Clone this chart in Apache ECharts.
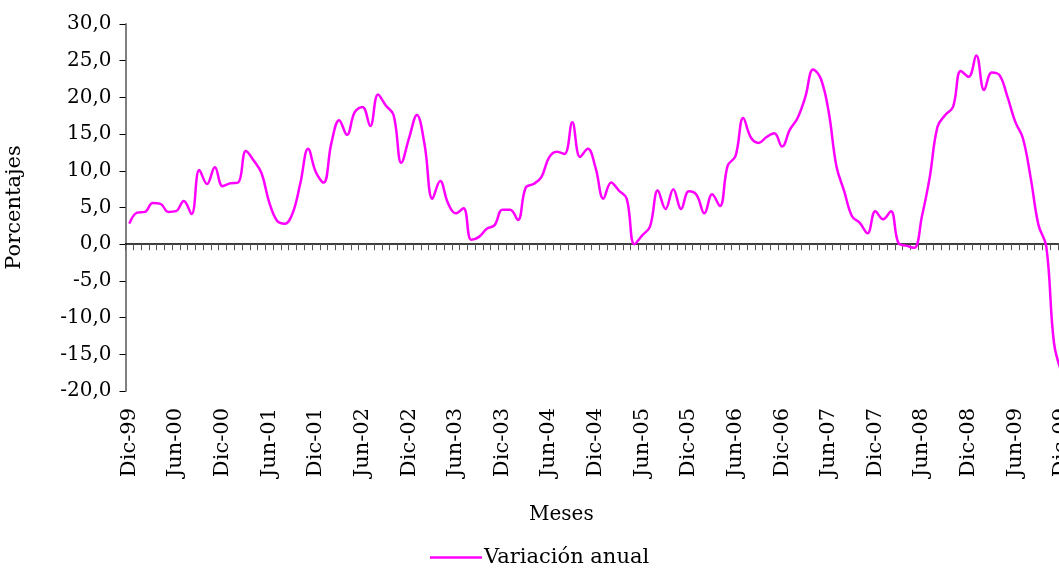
<!DOCTYPE html>
<html>
<head>
<meta charset="utf-8">
<script src="https://cdn.jsdelivr.net/npm/echarts@6/dist/echarts.min.js"></script>
<style>
  html, body { margin: 0; padding: 0; background: #fff; }
  #chart { width: 1059px; height: 568px; }
</style>
</head>
<body>
<div id="chart"></div>
<script>
// month abbreviations used for the category labels
const meses = ["Ene", "Feb", "Mar", "Abr", "May", "Jun", "Jul", "Ago", "Sep", "Oct", "Nov", "Dic"];
const anios = ["00", "01", "02", "03", "04", "05", "06", "07", "08", "09"];

// annual variation (%), Dic-99 then Ene..Dic of each year
const dic99 = [2.8];
const v2000 = [4.3, 4.4, 5.6, 5.5, 4.4, 4.5, 5.9, 4.1, 10.1, 8.2, 10.5, 7.9];
const v2001 = [8.3, 8.4, 12.7, 11.4, 9.7, 5.7, 3.2, 2.8, 4.2, 8.3, 13.0, 9.8];
const v2002 = [8.4, 13.8, 16.9, 14.9, 18.0, 18.7, 16.1, 20.4, 18.9, 17.6, 11.1, 14.5];
const v2003 = [17.6, 13.5, 6.2, 8.6, 5.6, 4.2, 4.9, 0.6, 1.0, 2.1, 2.6, 4.7];
const v2004 = [4.7, 3.3, 7.7, 8.2, 9.1, 11.8, 12.6, 12.3, 16.6, 11.9, 13.0, 10.4];
const v2005 = [6.2, 8.4, 7.3, 6.2, 0.0, 1.2, 2.4, 7.3, 4.8, 7.5, 4.8, 7.2];
const v2006 = [6.7, 4.2, 6.8, 5.2, 10.7, 12.0, 17.2, 14.5, 13.8, 14.6, 15.1, 13.3];
const v2007 = [15.6, 17.2, 20.1, 23.8, 22.5, 18.0, 10.6, 7.2, 3.8, 2.9, 1.5, 4.5];
const v2008 = [3.4, 4.5, 0.1, -0.2, -0.5, 3.8, 9.1, 16.0, 17.6, 18.7, 23.6, 22.8];
const v2009 = [25.7, 21.0, 23.4, 23.0, 20.1, 16.7, 14.4, 9.0, 2.6, -0.3, -13.5, -17.5];

const categorias = ["Dic-99"];
anios.forEach((a) => meses.forEach((m) => categorias.push(m + "-" + a)));

const valores = [].concat(dic99, v2000, v2001, v2002, v2003, v2004, v2005, v2006, v2007, v2008, v2009);

const fuente = "DejaVu Serif";
const chart = echarts.init(document.getElementById("chart"));

chart.setOption({
  animation: false,
  backgroundColor: "#fff",
  title: {
    text: "Meses",
    left: 529,
    top: 505,
    padding: 0,
    textStyle: { fontFamily: fuente, fontSize: 20, fontWeight: "normal", color: "#000" },
  },
  legend: {
    left: 430,
    top: 547,
    padding: 0,
    itemWidth: 52,
    itemHeight: 2.5,
    itemGap: 4,
    textStyle: { fontFamily: fuente, fontSize: 21, color: "#000", padding: [0, 0, 0, -3] },
    data: [{ name: "Variación anual", icon: "rect" }],
  },
  // the plot runs a little past the right edge of the canvas, as in the source
  grid: { left: 125.5, width: 940.2, top: 24, bottom: 177, outerBoundsMode: "none" },
  xAxis: [
    {
      type: "category",
      data: categorias,
      boundaryGap: true,
      axisLine: { onZero: true, lineStyle: { color: "#000", width: 1.5 } },
      axisTick: { show: true, interval: 0, length: 6, lineStyle: { color: "#555" } },
      axisLabel: { show: false },
      splitLine: { show: false },
    },
    {
      type: "category",
      data: categorias,
      position: "bottom",
      boundaryGap: true,
      axisLine: { show: false, onZero: false },
      axisTick: { show: false },
      axisLabel: {
        interval: 5,
        rotate: 90,
        margin: 17,
        fontFamily: fuente,
        fontSize: 21,
        color: "#000",
      },
      splitLine: { show: false },
    },
  ],
  yAxis: {
    type: "value",
    min: -20,
    max: 30,
    interval: 5,
    name: "Porcentajes",
    nameLocation: "middle",
    nameGap: 100,
    nameTextStyle: { fontFamily: fuente, fontSize: 21, color: "#000" },
    axisLine: { show: true, lineStyle: { color: "#808080", width: 2 } },
    axisTick: { show: true, length: 6, lineStyle: { color: "#000" } },
    axisLabel: {
      margin: 14,
      fontFamily: fuente,
      fontSize: 20,
      color: "#000",
      formatter: (v) => v.toFixed(1).replace(".", ","),
    },
    splitLine: { show: false },
  },
  series: [
    {
      name: "Variación anual",
      type: "line",
      xAxisIndex: 0,
      data: valores,
      smooth: 0.4,
      symbol: "none",
      lineStyle: { color: "#ff00ff", width: 2.5 },
      itemStyle: { color: "#ff00ff" },
    },
  ],
});
</script>
</body>
</html>
